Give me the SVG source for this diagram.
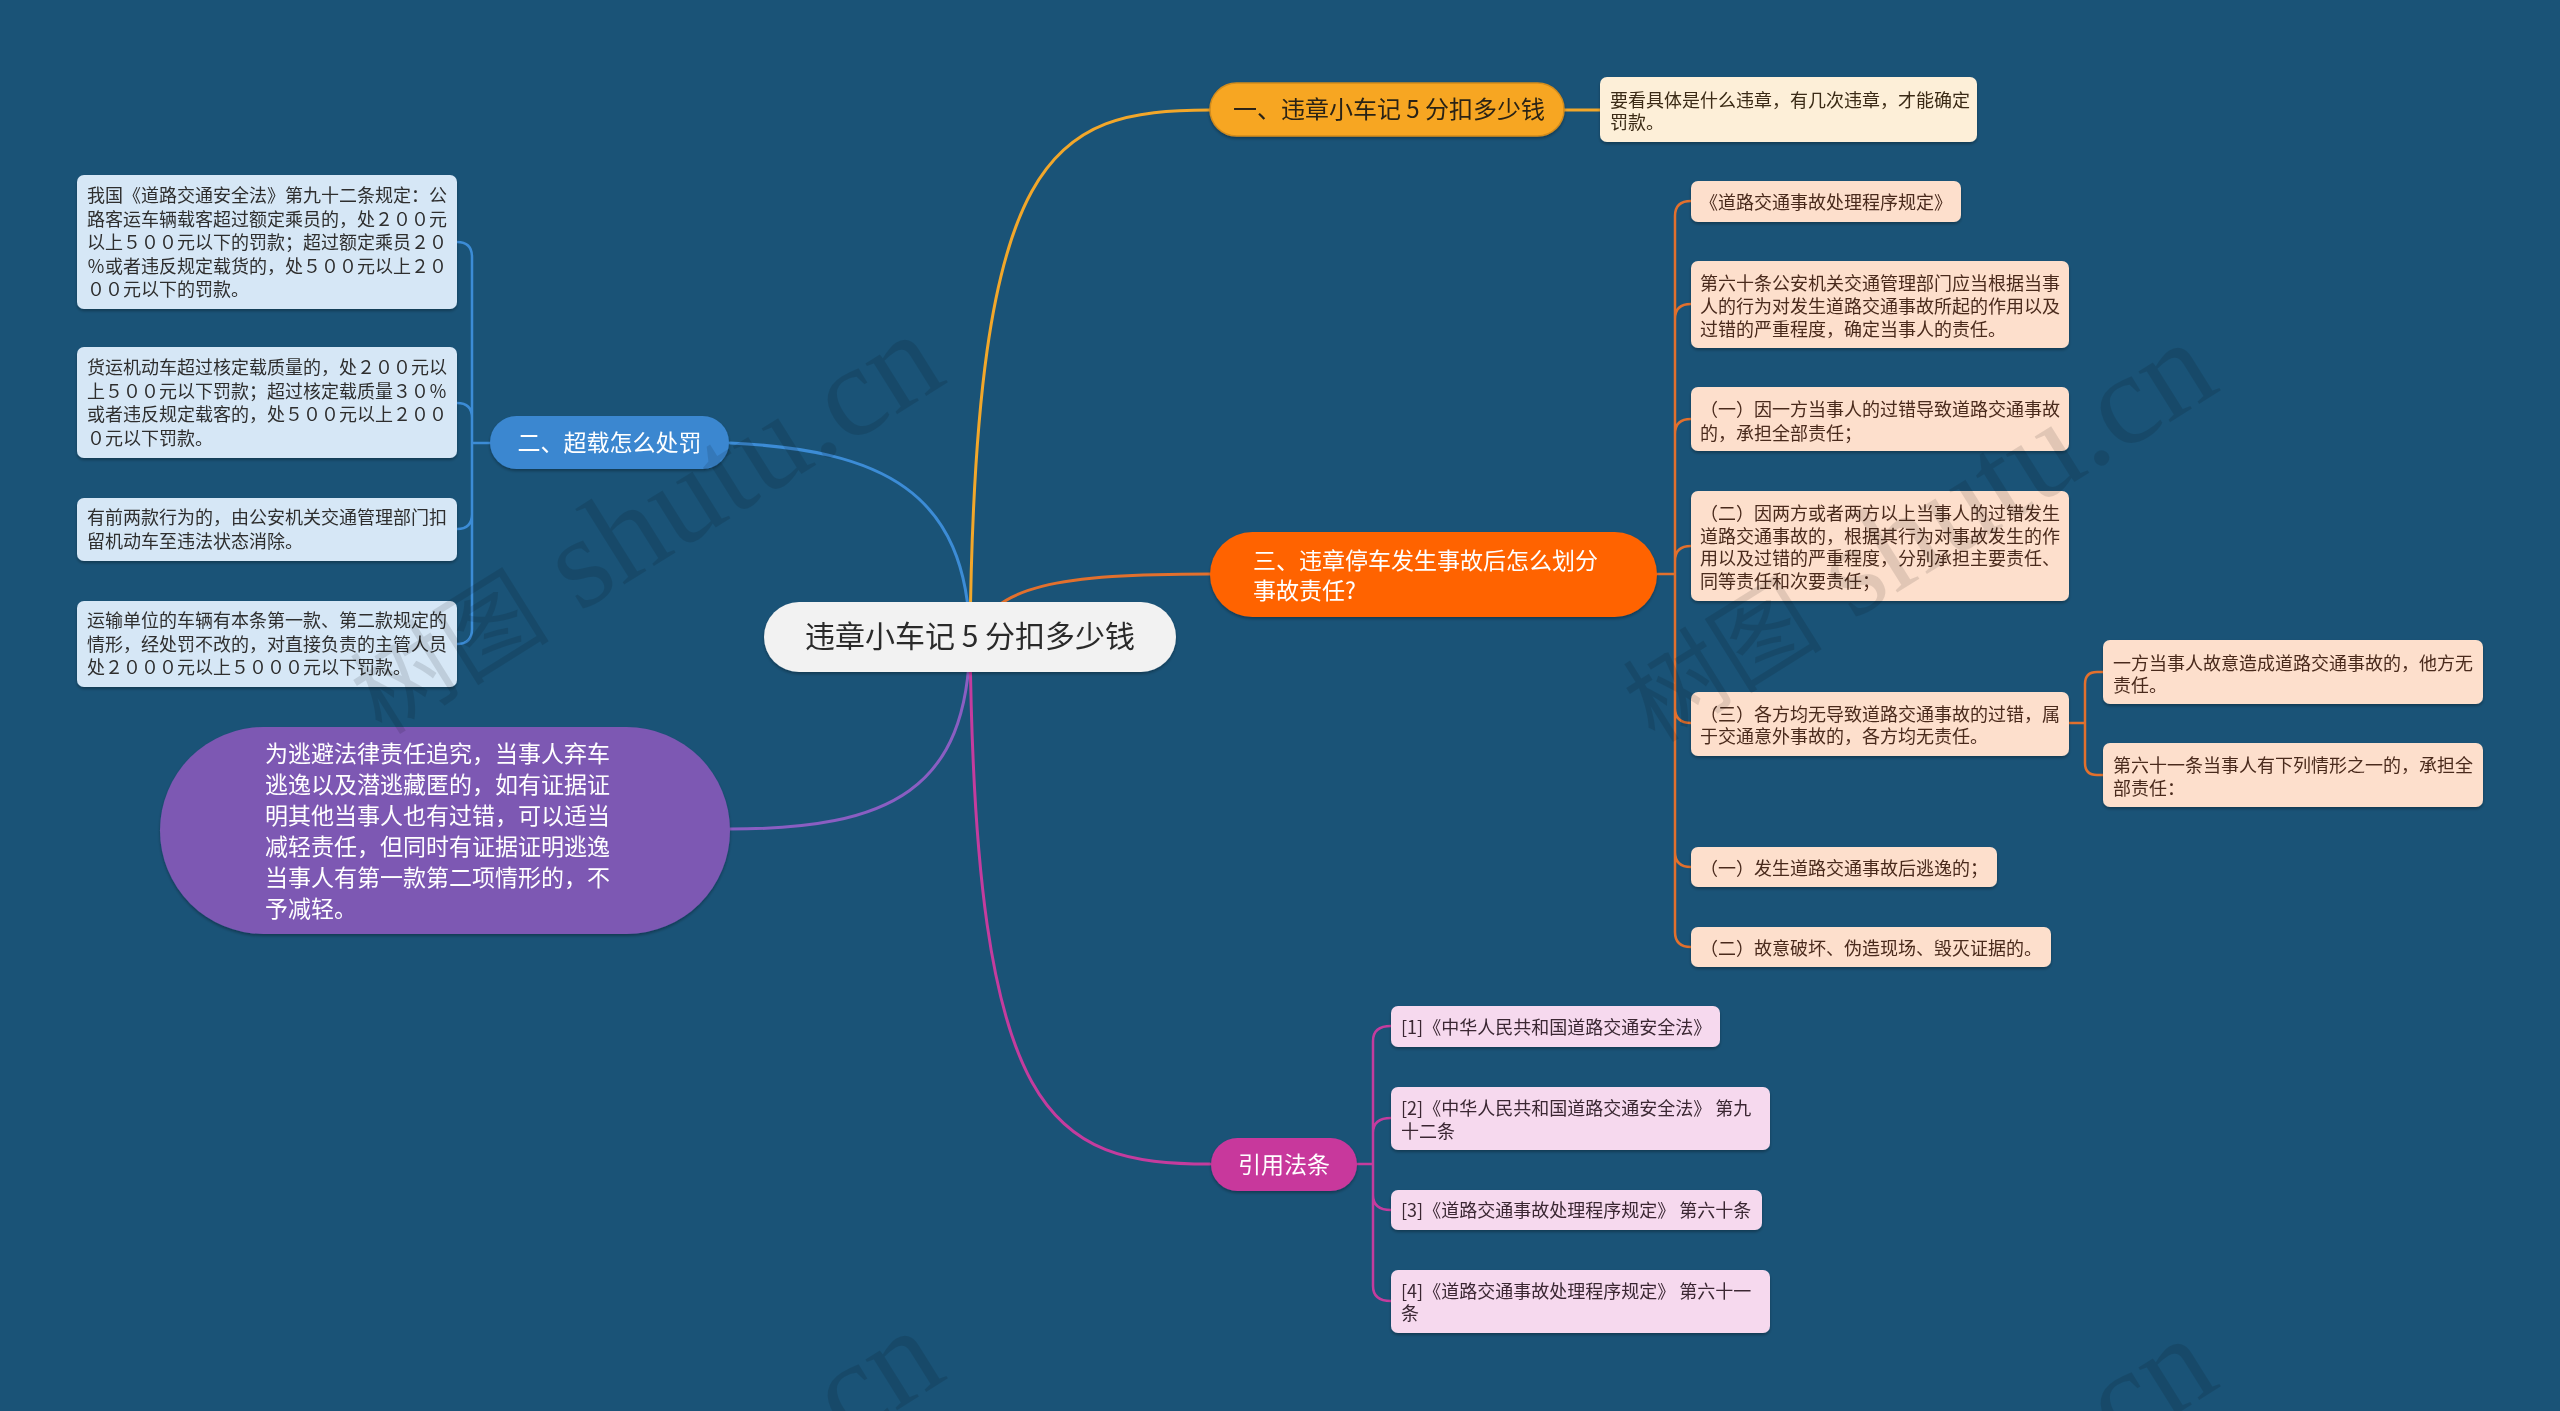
<svg xmlns="http://www.w3.org/2000/svg" width="2560" height="1411" viewBox="0 0 2560 1411">
<defs>
<filter id="sh" x="-10%" y="-20%" width="120%" height="150%">
<feDropShadow dx="0" dy="2" stdDeviation="1.5" flood-color="#000" flood-opacity="0.3"/>
</filter>
<style>
text{font-family:"Noto Sans CJK SC","Noto Sans",sans-serif;}
.c{fill:none;stroke-width:3;stroke-linecap:round}
.s{fill:none;stroke-width:2.5;stroke-linecap:round}
.y{stroke:#F2A72A}.b{stroke:#3C8CD6}.o{stroke:#E2702D}.p{stroke:#8A5EC2}.m{stroke:#C43C9E}
.t18{font-size:18px}
.lb{fill:#D6E7F6}.lbt{fill:#2E2E2E}
.ly{fill:#FDEFD8}.lyt{fill:#3A2A14}
.lo{fill:#FDDFCC}.lot{fill:#4A2A1C}
.lp{fill:#F6D9EE}.lpt{fill:#3A2833}
.wm{font-family:"Liberation Serif","Noto Sans CJK SC",serif;font-size:130px;fill:#000;fill-opacity:0.11}
.wmc{font-size:100px}
</style>
</defs>
<rect width="2560" height="1411" fill="#1A5377"/>

<g id="connectors">
<path class="c y" d="M970,640 C975,150 1050,110 1210,110"/>
<path class="c y" d="M1564,110 H1600"/>
<path class="c b" d="M970,640 C968,490 880,450 730,443"/>
<path class="c o" d="M975,640 C990,585 1060,574 1210,574"/>
<path class="c p" d="M970,640 C968,790 890,829 730,829"/>
<path class="c m" d="M970,640 C975,1120 1050,1164 1210,1164"/>
<path class="s b" d="M490,443 H472 M472,443 V257 Q472,242 457,242 M472,443 V418 Q472,403 457,403 M472,443 V514 Q472,529 457,529 M472,443 V629 Q472,644 457,644"/>
<path class="s o" d="M1657,574 H1675 M1675,574 V216 Q1675,201 1691,201 M1675,574 V319 Q1675,304 1691,304 M1675,574 V434 Q1675,419 1691,419 M1675,574 V561 Q1675,546 1691,546 M1675,574 V708 Q1675,723 1691,723 M1675,574 V852 Q1675,867 1691,867 M1675,574 V932 Q1675,947 1691,947"/>
<path class="s o" d="M2069,723 H2085 M2085,723 V684 Q2085,672 2097,672 H2103 M2085,723 V763 Q2085,775 2097,775 H2103"/>
<path class="s m" d="M1357,1164 H1373 M1373,1164 V1041 Q1373,1026 1391,1026 M1373,1164 V1133 Q1373,1118 1391,1118 M1373,1164 V1195 Q1373,1210 1391,1210 M1373,1164 V1286 Q1373,1301 1391,1301"/>
</g>

<g id="center" filter="url(#sh)">
<rect x="764" y="602" width="412" height="70" rx="35" fill="#F2F2F2"/>
<text x="970" y="647" font-size="30" fill="#2B2B2B" text-anchor="middle">违章小车记 5 分扣多少钱</text>
</g>

<g id="n1" filter="url(#sh)">
<rect x="1210" y="83" width="354" height="53" rx="26.5" fill="#F7A623" stroke="#D38C1C" stroke-width="1.5"/>
<text x="1389" y="118" font-size="24" fill="#2B2416" text-anchor="middle">一、违章小车记 5 分扣多少钱</text>
</g>
<g id="n1a" filter="url(#sh)">
<rect x="1600" y="77" width="377" height="65" rx="7" class="ly"/>
<text class="t18 lyt" x="1610"><tspan x="1610" y="107">要看具体是什么违章，有几次违章，才能确定</tspan><tspan x="1610" y="129">罚款。</tspan></text>
</g>

<g id="n2" filter="url(#sh)">
<rect x="490" y="416" width="239" height="53" rx="26.5" fill="#3B87D0"/>
<text x="609.5" y="451" font-size="23" fill="#FFFFFF" text-anchor="middle">二、超载怎么处罚</text>
</g>
<g id="n2a" filter="url(#sh)">
<rect x="77" y="175" width="380" height="134" rx="7" class="lb"/>
<text class="t18 lbt"><tspan x="87" y="202">我国《道路交通安全法》第九十二条规定：公</tspan><tspan x="87" y="226">路客运车辆载客超过额定乘员的，处２００元</tspan><tspan x="87" y="249">以上５００元以下的罚款；超过额定乘员２０</tspan><tspan x="87" y="273">％或者违反规定载货的，处５００元以上２０</tspan><tspan x="87" y="296">００元以下的罚款。</tspan></text>
</g>
<g id="n2b" filter="url(#sh)">
<rect x="77" y="347" width="380" height="111" rx="7" class="lb"/>
<text class="t18 lbt"><tspan x="87" y="374">货运机动车超过核定载质量的，处２００元以</tspan><tspan x="87" y="398">上５００元以下罚款；超过核定载质量３０％</tspan><tspan x="87" y="421">或者违反规定载客的，处５００元以上２００</tspan><tspan x="87" y="445">０元以下罚款。</tspan></text>
</g>
<g id="n2c" filter="url(#sh)">
<rect x="77" y="498" width="380" height="63" rx="7" class="lb"/>
<text class="t18 lbt"><tspan x="87" y="524">有前两款行为的，由公安机关交通管理部门扣</tspan><tspan x="87" y="548">留机动车至违法状态消除。</tspan></text>
</g>
<g id="n2d" filter="url(#sh)">
<rect x="77" y="601" width="380" height="86" rx="7" class="lb"/>
<text class="t18 lbt"><tspan x="87" y="627">运输单位的车辆有本条第一款、第二款规定的</tspan><tspan x="87" y="651">情形，经处罚不改的，对直接负责的主管人员</tspan><tspan x="87" y="674">处２０００元以上５０００元以下罚款。</tspan></text>
</g>

<g id="n3" filter="url(#sh)">
<rect x="1210" y="532" width="447" height="85" rx="42.5" fill="#FF6404"/>
<text font-size="23" fill="#FFFFFF"><tspan x="1253" y="569">三、违章停车发生事故后怎么划分</tspan><tspan x="1253" y="599">事故责任?</tspan></text>
</g>
<g id="n3a" filter="url(#sh)">
<rect x="1691" y="181" width="270" height="41" rx="7" class="lo"/>
<text class="t18 lot" x="1700" y="209">《道路交通事故处理程序规定》</text>
</g>
<g id="n3b" filter="url(#sh)">
<rect x="1691" y="261" width="378" height="87" rx="7" class="lo"/>
<text class="t18 lot"><tspan x="1700" y="290">第六十条公安机关交通管理部门应当根据当事</tspan><tspan x="1700" y="313">人的行为对发生道路交通事故所起的作用以及</tspan><tspan x="1700" y="336">过错的严重程度，确定当事人的责任。</tspan></text>
</g>
<g id="n3c" filter="url(#sh)">
<rect x="1691" y="387" width="378" height="64" rx="7" class="lo"/>
<text class="t18 lot"><tspan x="1700" y="416">（一）因一方当事人的过错导致道路交通事故</tspan><tspan x="1700" y="440">的，承担全部责任；</tspan></text>
</g>
<g id="n3d" filter="url(#sh)">
<rect x="1691" y="491" width="378" height="110" rx="7" class="lo"/>
<text class="t18 lot"><tspan x="1700" y="520">（二）因两方或者两方以上当事人的过错发生</tspan><tspan x="1700" y="543">道路交通事故的，根据其行为对事故发生的作</tspan><tspan x="1700" y="565">用以及过错的严重程度，分别承担主要责任、</tspan><tspan x="1700" y="588">同等责任和次要责任；</tspan></text>
</g>
<g id="n3e" filter="url(#sh)">
<rect x="1691" y="692" width="378" height="64" rx="7" class="lo"/>
<text class="t18 lot"><tspan x="1700" y="721">（三）各方均无导致道路交通事故的过错，属</tspan><tspan x="1700" y="743">于交通意外事故的，各方均无责任。</tspan></text>
</g>
<g id="n3e1" filter="url(#sh)">
<rect x="2103" y="640" width="380" height="64" rx="7" class="lo"/>
<text class="t18 lot"><tspan x="2113" y="670">一方当事人故意造成道路交通事故的，他方无</tspan><tspan x="2113" y="692">责任。</tspan></text>
</g>
<g id="n3e2" filter="url(#sh)">
<rect x="2103" y="743" width="380" height="64" rx="7" class="lo"/>
<text class="t18 lot"><tspan x="2113" y="772">第六十一条当事人有下列情形之一的，承担全</tspan><tspan x="2113" y="795">部责任：</tspan></text>
</g>
<g id="n3f" filter="url(#sh)">
<rect x="1691" y="847" width="306" height="40" rx="7" class="lo"/>
<text class="t18 lot" x="1700" y="875">（一）发生道路交通事故后逃逸的；</text>
</g>
<g id="n3g" filter="url(#sh)">
<rect x="1691" y="927" width="360" height="40" rx="7" class="lo"/>
<text class="t18 lot" x="1700" y="955">（二）故意破坏、伪造现场、毁灭证据的。</text>
</g>

<g id="n4" filter="url(#sh)">
<rect x="160" y="727" width="570" height="207" rx="103.5" fill="#7D58B3"/>
<text font-size="23" fill="#FFFFFF"><tspan x="265" y="762">为逃避法律责任追究，当事人弃车</tspan><tspan x="265" y="793">逃逸以及潜逃藏匿的，如有证据证</tspan><tspan x="265" y="824">明其他当事人也有过错，可以适当</tspan><tspan x="265" y="855">减轻责任，但同时有证据证明逃逸</tspan><tspan x="265" y="886">当事人有第一款第二项情形的，不</tspan><tspan x="265" y="917">予减轻。</tspan></text>
</g>

<g id="n5" filter="url(#sh)">
<rect x="1211" y="1138" width="146" height="53" rx="26.5" fill="#C8389C"/>
<text x="1284" y="1173" font-size="23" fill="#FFFFFF" text-anchor="middle">引用法条</text>
</g>
<g id="n5a" filter="url(#sh)">
<rect x="1391" y="1006" width="329" height="41" rx="7" class="lp"/>
<text class="t18 lpt" x="1401" y="1034">[1]《中华人民共和国道路交通安全法》</text>
</g>
<g id="n5b" filter="url(#sh)">
<rect x="1391" y="1087" width="379" height="63" rx="7" class="lp"/>
<text class="t18 lpt"><tspan x="1401" y="1115">[2]《中华人民共和国道路交通安全法》 第九</tspan><tspan x="1401" y="1138">十二条</tspan></text>
</g>
<g id="n5c" filter="url(#sh)">
<rect x="1391" y="1190" width="371" height="40" rx="7" class="lp"/>
<text class="t18 lpt" x="1401" y="1217">[3]《道路交通事故处理程序规定》 第六十条</text>
</g>
<g id="n5d" filter="url(#sh)">
<rect x="1391" y="1270" width="379" height="63" rx="7" class="lp"/>
<text class="t18 lpt"><tspan x="1401" y="1298">[4]《道路交通事故处理程序规定》 第六十一</tspan><tspan x="1401" y="1320">条</tspan></text>
</g>

<g id="watermark">
<text class="wm" x="382" y="736" transform="rotate(-32 382 736)"><tspan class="wmc">树图</tspan> shutu.cn</text>
<text class="wm" x="1655" y="744" transform="rotate(-32 1655 744)"><tspan class="wmc">树图</tspan> shutu.cn</text>
<text class="wm" x="382" y="1732" transform="rotate(-32 382 1732)"><tspan class="wmc">树图</tspan> shutu.cn</text>
<text class="wm" x="1655" y="1740" transform="rotate(-32 1655 1740)"><tspan class="wmc">树图</tspan> shutu.cn</text>
</g>
</svg>
